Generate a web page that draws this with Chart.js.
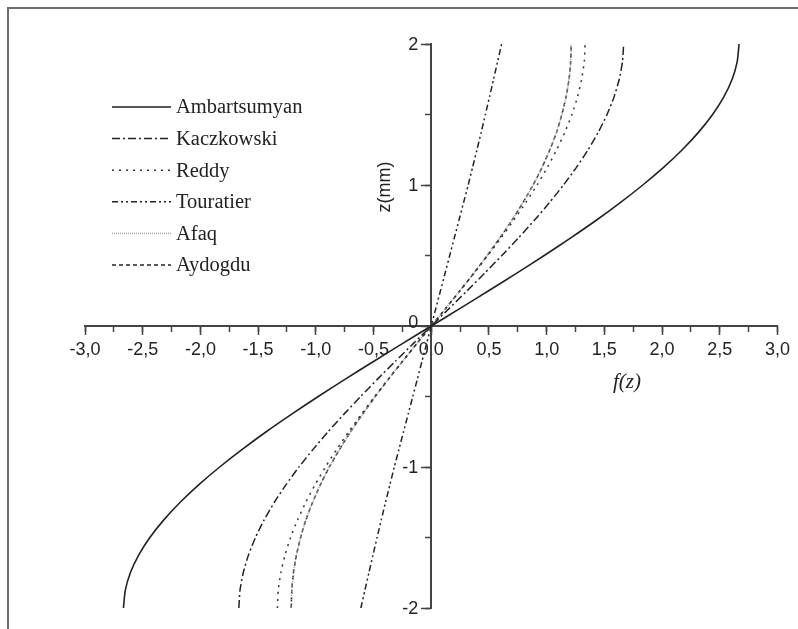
<!DOCTYPE html>
<html>
<head>
<meta charset="utf-8">
<script src="https://cdn.jsdelivr.net/npm/chart.js@4.4.1/dist/chart.umd.min.js"></script>
<style>
    html, body { margin: 0; padding: 0; background: #fff; overflow: hidden; }
    #frame {
        position: absolute; left: 7px; top: 7px; width: 830px; height: 660px;
        border-left: 2px solid #6e6e6e; border-top: 2px solid #6e6e6e;
    }
    #wrap { position: absolute; left: 0; top: 0; width: 798px; height: 629px; }
</style>
</head>
<body>
<div id="frame"></div>
<div id="wrap"><canvas id="shearChart" width="798" height="629"></canvas></div>
<script>
// z through the thickness (mm)
const zValues = [-2, -1.875, -1.75, -1.625, -1.5, -1.375, -1.25, -1.125, -1, -0.875, -0.75, -0.625, -0.5, -0.375, -0.25, -0.125,
                 0, 0.125, 0.25, 0.375, 0.5, 0.625, 0.75, 0.875, 1, 1.125, 1.25, 1.375, 1.5, 1.625, 1.75, 1.875, 2];

// f(z) for each shear function
const ambartsumyan = [-2.667, -2.651, -2.607, -2.535, -2.438, -2.317, -2.175, -2.013, -1.833, -1.638, -1.430, -1.209, -0.979, -0.741, -0.497, -0.250,
                      0, 0.250, 0.497, 0.741, 0.979, 1.209, 1.430, 1.638, 1.833, 2.013, 2.175, 2.317, 2.438, 2.535, 2.607, 2.651, 2.667];
const kaczkowski   = [-1.667, -1.657, -1.629, -1.584, -1.523, -1.448, -1.359, -1.258, -1.146, -1.024, -0.894, -0.756, -0.612, -0.463, -0.311, -0.156,
                      0, 0.156, 0.311, 0.463, 0.612, 0.756, 0.894, 1.024, 1.146, 1.258, 1.359, 1.448, 1.523, 1.584, 1.629, 1.657, 1.667];
const reddy        = [-1.333, -1.326, -1.303, -1.267, -1.219, -1.158, -1.087, -1.006, -0.917, -0.819, -0.715, -0.605, -0.490, -0.371, -0.249, -0.125,
                      0, 0.125, 0.249, 0.371, 0.490, 0.605, 0.715, 0.819, 0.917, 1.006, 1.087, 1.158, 1.219, 1.267, 1.303, 1.326, 1.333];
const touratier    = [-0.610, -0.575, -0.540, -0.505, -0.469, -0.433, -0.396, -0.358, -0.320, -0.280, -0.240, -0.200, -0.160, -0.120, -0.080, -0.040,
                      0, 0.040, 0.080, 0.120, 0.160, 0.200, 0.240, 0.280, 0.320, 0.358, 0.396, 0.433, 0.469, 0.505, 0.540, 0.575, 0.610];
const afaq         = [-1.213, -1.208, -1.194, -1.168, -1.132, -1.086, -1.028, -0.960, -0.883, -0.795, -0.699, -0.595, -0.485, -0.369, -0.248, -0.125,
                      0, 0.125, 0.248, 0.369, 0.485, 0.595, 0.699, 0.795, 0.883, 0.960, 1.028, 1.086, 1.132, 1.168, 1.194, 1.208, 1.213];
const aydogdu      = [-1.213, -1.208, -1.194, -1.168, -1.132, -1.086, -1.028, -0.960, -0.883, -0.795, -0.699, -0.595, -0.485, -0.369, -0.248, -0.125,
                      0, 0.125, 0.248, 0.369, 0.485, 0.595, 0.699, 0.795, 0.883, 0.960, 1.028, 1.086, 1.132, 1.168, 1.194, 1.208, 1.213];

const seriesNames = ['Ambartsumyan', 'Kaczkowski', 'Reddy', 'Touratier', 'Afaq', 'Aydogdu'];

const toPoints = (fs) => fs.map((f, i) => ({ x: f, y: zValues[i] }));
const isMultiple = (v, step) => Math.abs(v / step - Math.round(v / step)) < 1e-6;

function lineSet(label, values, color, dash, width) {
    return {
        label: label,
        data: toPoints(values),
        borderColor: color,
        borderDash: dash,
        borderWidth: width,
        pointRadius: 0,
        showLine: true,
        fill: false,
        tension: 0.2
    };
}

const datasets = [
    lineSet(seriesNames[0], ambartsumyan, '#222', [], 1.6),
    lineSet(seriesNames[1], kaczkowski, '#222', [8, 3, 2, 3], 1.5),
    lineSet(seriesNames[2], reddy, '#333', [2, 5], 1.5),
    lineSet(seriesNames[3], touratier, '#222', [6, 3, 2, 3, 2, 3], 1.5),
    lineSet(seriesNames[4], afaq, '#a8a8a8', [1, 1], 1.5),
    lineSet(seriesNames[5], aydogdu, '#222', [4, 3], 1.5)
];

const labelFont = '18px "Liberation Sans", Arial, sans-serif';

// legend block, y tick labels and axis titles drawn on top of the plot
const overlay = {
    id: 'overlay',
    afterDraw(chart) {
        const c = chart.ctx;
        c.save();
        c.textBaseline = 'middle';
        c.textAlign = 'left';
        c.font = '20.5px "Liberation Serif", "Times New Roman", serif';
        chart.data.datasets.forEach((ds, i) => {
            const y = 107 + i * 31.6;
            c.beginPath();
            c.strokeStyle = ds.borderColor;
            c.lineWidth = ds.borderWidth;
            c.setLineDash(ds.borderDash);
            c.moveTo(112, y);
            c.lineTo(171, y);
            c.stroke();
            c.fillStyle = '#222';
            c.fillText(ds.label, 176, y + 1);
        });
        c.setLineDash([]);

        // y labels sit left of the centred axis
        const xs = chart.scales.x, ys = chart.scales.y;
        const axisX = xs.getPixelForValue(0);
        c.fillStyle = '#222';
        c.textAlign = 'right';
        c.font = labelFont;
        ys.ticks.forEach((t) => {
            if (!isMultiple(t.value, 1)) return;
            const py = ys.getPixelForValue(t.value);
            c.fillText(String(t.value), axisX - 13, t.value === 0 ? py - 3 : py + 1);
        });

        c.textAlign = 'center';
        c.font = 'italic 21px "Liberation Serif", "Times New Roman", serif';
        c.fillText('f(z)', 627, 382);

        c.translate(385, 187);
        c.rotate(-Math.PI / 2);
        c.font = labelFont;
        c.fillText('z(mm)', 0, 0);
        c.restore();
    }
};

const ctx = document.getElementById('shearChart').getContext('2d');
const shearChart = new Chart(ctx, {
    type: 'scatter',
    data: { datasets: datasets },
    options: {
        responsive: false,
        animation: false,
        devicePixelRatio: 1,
        layout: { padding: { left: 85, right: 19, top: 44, bottom: 21 } },
        plugins: { legend: { display: false }, tooltip: { enabled: false } },
        scales: {
            x: {
                type: 'linear', position: { y: 0 }, min: -3, max: 3,
                ticks: {
                    stepSize: 0.25, color: '#222', padding: 8, maxRotation: 0, autoSkip: false,
                    font: { family: '"Liberation Sans", Arial, sans-serif', size: 18 },
                    callback: (v) => isMultiple(v, 0.5) ? v.toFixed(1).replace('.', ',') : ''
                },
                grid: { drawOnChartArea: false, tickLength: 5, tickColor: '#444', tickWidth: 1.5 },
                border: { color: '#444', width: 2 }
            },
            xMajor: {
                type: 'linear', axis: 'x', position: { y: 0 }, min: -3, max: 3,
                ticks: { stepSize: 0.5, display: false },
                grid: { drawOnChartArea: false, tickLength: 9, tickColor: '#444', tickWidth: 1.5 },
                border: { display: false }
            },
            y: {
                type: 'linear', position: { x: 0 }, min: -2, max: 2,
                ticks: { stepSize: 0.5, display: false },
                grid: { drawOnChartArea: false, tickLength: 5, tickColor: '#444', tickWidth: 1.5 },
                border: { color: '#444', width: 2 }
            },
            yMajor: {
                type: 'linear', axis: 'y', position: { x: 0 }, min: -2, max: 2,
                ticks: { stepSize: 1, display: false },
                grid: { drawOnChartArea: false, tickLength: 10, tickColor: '#444', tickWidth: 1.5 },
                border: { display: false }
            }
        }
    },
    plugins: [overlay]
});
</script>
</body>
</html>
